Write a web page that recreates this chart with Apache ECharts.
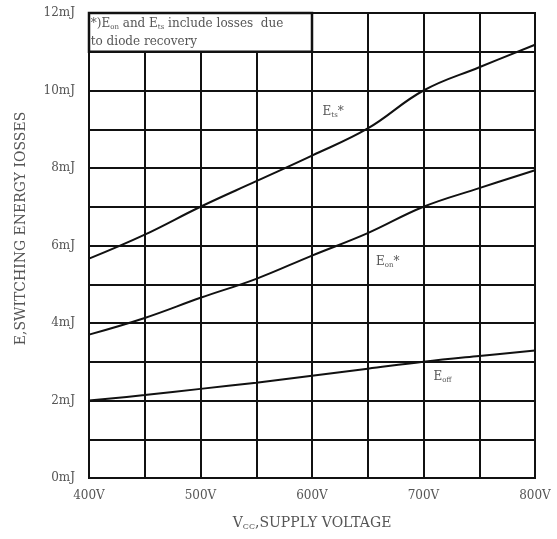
<!DOCTYPE html>
<html>
<head>
<meta charset="utf-8">
<script src="https://cdn.jsdelivr.net/npm/echarts@6/dist/echarts.min.js"></script>
<style>
html,body{margin:0;padding:0;background:#fff;}
#chart{width:557px;height:539px;}
</style>
</head>
<body>
<div id="chart"></div>
<script>
const voltages = [400, 450, 500, 550, 600, 650, 700, 750, 800];
const ets = [5.66, 6.28, 7.0, 7.66, 8.32, 9.02, 10.0, 10.6, 11.18];
const eon = [3.7, 4.13, 4.65, 5.14, 5.74, 6.32, 7.0, 7.48, 7.94];
const eoff = [2.0, 2.14, 2.30, 2.46, 2.64, 2.82, 3.0, 3.15, 3.29];
const labelPos = { ets: [619, 9.45], eon: [668, 5.58], eoff: [717, 2.62] };
const noteBox = [[400, 11], [600, 12]];

const serif = 'DejaVu Serif';
const txt = '#555';
const subStyle = { fontSize: 7, fontFamily: serif, color: txt, padding: [7, 0, 0, 0] };
const mainStyle = { fontSize: 12, fontFamily: serif, color: txt };
const nameMain = { fontSize: 14, fontFamily: serif, color: txt };
const nameSub = { fontSize: 8, fontFamily: serif, color: txt, padding: [8, 0, 0, 0] };

function pairs(ys) { return voltages.map((v, i) => [v, ys[i]]); }
function mp(coord, text) {
  return {
    symbol: 'circle', symbolSize: 1, silent: true,
    itemStyle: { color: 'rgba(0,0,0,0)' },
    data: [{ coord: coord, value: 0 }],
    label: { show: true, position: 'inside', formatter: text,
      rich: { m: mainStyle, sub: subStyle } }
  };
}

const chart = echarts.init(document.getElementById('chart'));
chart.setOption({
  animation: false,
  backgroundColor: '#fff',
  grid: { left: 89, right: 22, top: 13, bottom: 61, show: true, borderColor: '#111', borderWidth: 2 },
  xAxis: {
    type: 'value', min: 400, max: 800, interval: 50,
    name: '{m|V}{sub|CC}{m|,SUPPLY VOLTAGE}', nameLocation: 'middle', nameGap: 37,
    nameTextStyle: { rich: { m: nameMain, sub: nameSub } },
    axisLine: { show: true, lineStyle: { color: '#111', width: 2 } },
    axisTick: { show: false },
    axisLabel: { margin: 12, fontFamily: serif, fontSize: 12, color: txt,
      formatter: v => (v % 100 === 0 ? v + 'V' : '') },
    splitLine: { show: true, lineStyle: { color: '#111', width: 2 } }
  },
  yAxis: {
    type: 'value', min: 0, max: 12, interval: 1,
    name: 'E,SWITCHING ENERGY IOSSES', nameLocation: 'middle', nameGap: 61,
    nameTextStyle: { fontFamily: serif, fontSize: 14, color: txt, padding: [0, 0, 0, 34] },
    axisLine: { show: true, lineStyle: { color: '#111', width: 2 } },
    axisTick: { show: false },
    axisLabel: { margin: 14, fontFamily: serif, fontSize: 12, color: txt,
      formatter: v => (v % 2 === 0 ? v + 'mJ' : '') },
    splitLine: { show: true, lineStyle: { color: '#111', width: 2 } }
  },
  series: [
    {
      name: 'Ets', type: 'line', smooth: 0.4, symbol: 'none', data: pairs(ets),
      lineStyle: { color: '#111', width: 2 },
      markPoint: mp(labelPos.ets, '{m|E}{sub|ts}{m|*}'),
      markArea: {
        silent: true,
        itemStyle: { color: '#fff', borderColor: '#111', borderWidth: 2.5 },
        label: { show: true, position: 'insideTopLeft', distance: 3,
          formatter: '{m|*)E}{sub|on}{m| and E}{sub|ts}{m| include losses  due}\n{m|to diode recovery}',
          rich: { m: Object.assign({}, mainStyle, { lineHeight: 18 }), sub: subStyle } },
        data: [[{ coord: noteBox[0] }, { coord: noteBox[1] }]]
      }
    },
    {
      name: 'Eon', type: 'line', smooth: 0.4, symbol: 'none', data: pairs(eon),
      lineStyle: { color: '#111', width: 2 },
      markPoint: mp(labelPos.eon, '{m|E}{sub|on}{m|*}')
    },
    {
      name: 'Eoff', type: 'line', smooth: 0.4, symbol: 'none', data: pairs(eoff),
      lineStyle: { color: '#111', width: 2 },
      markPoint: mp(labelPos.eoff, '{m|E}{sub|off}')
    }
  ]
});
</script>
</body>
</html>
